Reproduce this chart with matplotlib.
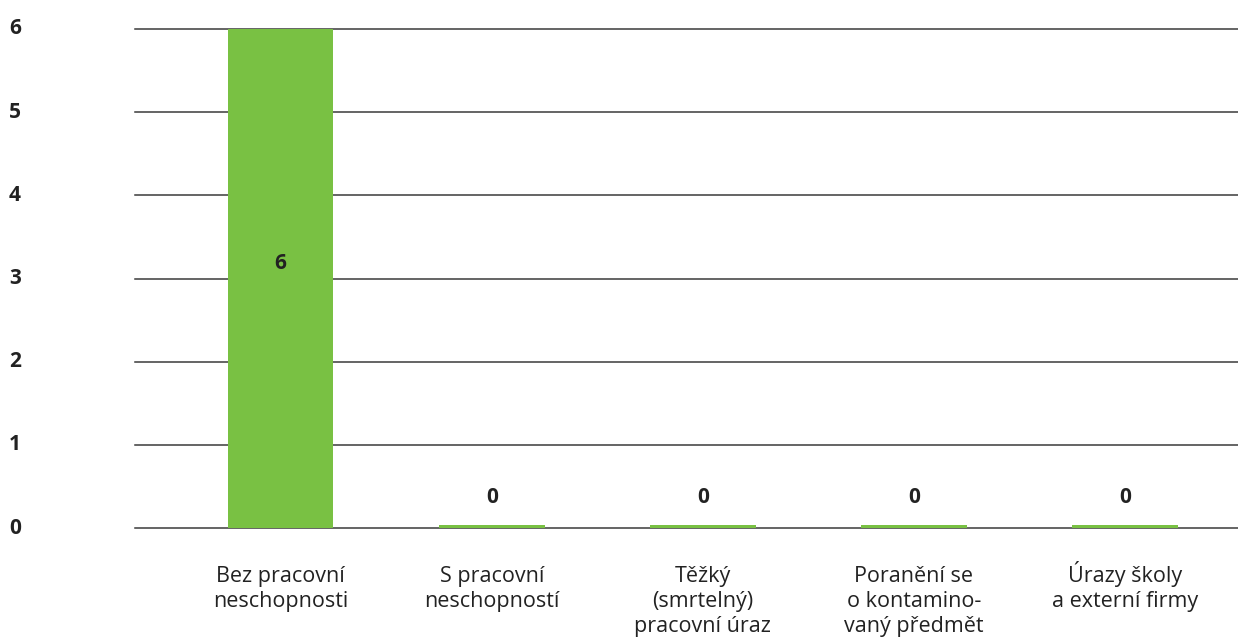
import matplotlib.pyplot as plt
import matplotlib.transforms as mtransforms

plt.rcParams['font.family'] = ['Open Sans', 'DejaVu Sans']

# data
categories = ['Bez pracovní\nneschopnosti', 'S pracovní\nneschopností',
              'Těžký\n(smrtelný)\npracovní úraz', 'Poranění se\no kontamino-\nvaný předmět',
              'Úrazy školy\na externí firmy']
values = [6, 0, 0, 0, 0]
yticks = [0, 1, 2, 3, 4, 5, 6]

green = '#79c143'
txt = '#222222'

fig = plt.figure(figsize=(12.38, 6.39), dpi=100)
ax = fig.add_axes([135 / 1238, 111 / 639, 1 - 135 / 1238, (528 - 29) / 639])

x = list(range(len(categories)))
# zero bars still shown as a thin strip
heights = [v if v > 0 else 0.04 for v in values]
ax.bar(x, heights, width=0.5, color=green, zorder=3)

for xi, v in zip(x, values):
    ypos = v / 2 + 0.18 if v > 0 else 0.37
    ax.text(xi, ypos, str(v), ha='center', va='center',
            fontsize=15, fontweight='bold', color=txt, zorder=4)

ax.set_xlim(-0.69, 4.535)
ax.set_ylim(0, 6)

# gridlines
for t in yticks:
    ax.axhline(t, color='#3a3a3a', linewidth=1.1, zorder=1, clip_on=False)

# y labels at far left
trans = mtransforms.blended_transform_factory(fig.transFigure, ax.transData)
for t in yticks:
    ax.text(9 / 1238, t, str(t), transform=trans, ha='left', va='center',
            fontsize=15, fontweight='bold', color=txt)
ax.set_yticks([])
ax.set_xticks([])

# category labels, line by line so baselines line up
for xi, cat in zip(x, categories):
    for k, line in enumerate(cat.split('\n')):
        ax.annotate(line, xy=(xi, 0), xycoords=('data', 'axes fraction'),
                    xytext=(0, -39 - 18 * k), textcoords='offset points',
                    ha='center', va='baseline', fontsize=15.5, color=txt,
                    annotation_clip=False)

for s in ax.spines.values():
    s.set_visible(False)

fig.savefig('out.png', dpi=100)
